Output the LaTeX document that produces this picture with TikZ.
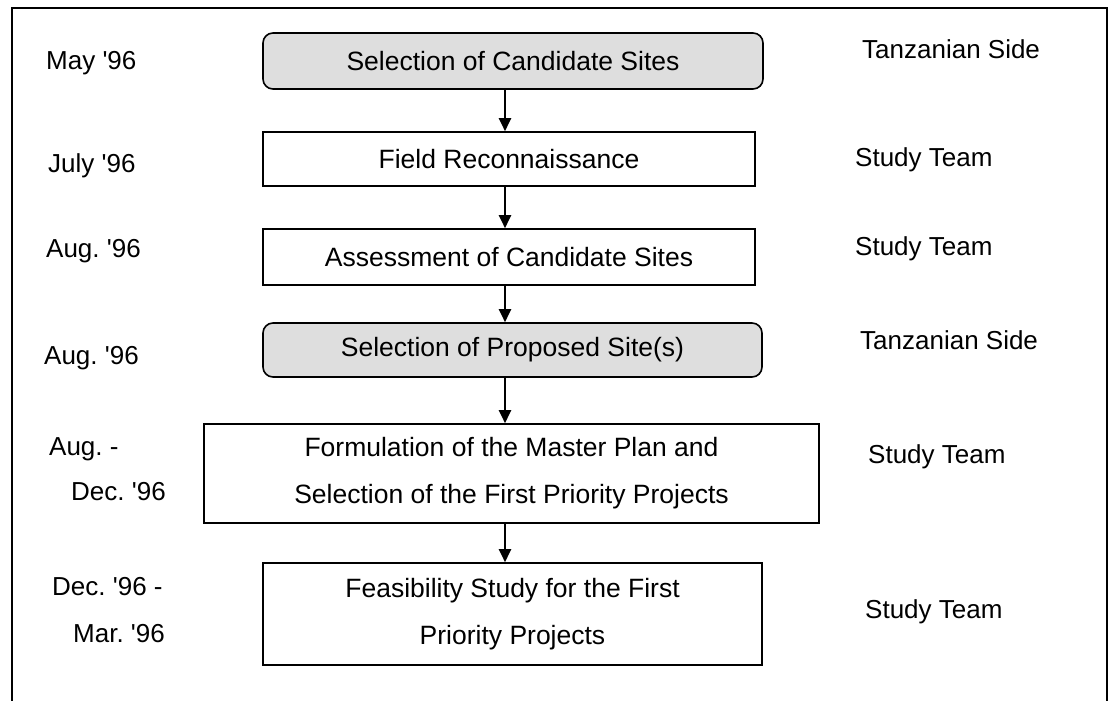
\documentclass[tikz,border=0pt]{standalone}
\usepackage{fontspec}
\setmainfont{Liberation Sans}
\usetikzlibrary{arrows.meta}
\newcommand{\qt}{\textquotesingle}

\begin{document}
\frenchspacing
\begin{tikzpicture}[x=1pt, y=-1pt,
    paso/.style={draw, line width=1.6pt, align=center, inner sep=4pt,
      font=\fontsize{26.5}{47}\selectfont},
    decision/.style={paso, rounded corners=10pt, fill=black!13},
    flecha/.style={line width=2.4pt, -{Triangle[length=13pt, width=12pt]}},
    etiqueta/.style={anchor=base west, inner sep=0pt, font=\fontsize{26}{30}\selectfont}]

  \useasboundingbox (0,0) rectangle (1112,701);

  % Marco
  \draw[line width=1.8pt] (12,701) -- (12,8) -- (1107,8) -- (1107,701);

  % Cajas del proceso
  \node[decision, minimum width=500pt, minimum height=56pt] (b1) at (513,61) {Selection of Candidate Sites};
  \node[paso, minimum width=492pt, minimum height=54pt] (b2) at (509,159) {Field Reconnaissance};
  \node[paso, minimum width=492pt, minimum height=56pt] (b3) at (509,257) {Assessment of Candidate Sites};
  \node[decision, minimum width=499pt, minimum height=54pt] (b4) at (512.5,350) {Selection of Proposed Site(s)};
  \node[paso, minimum width=615pt, minimum height=99pt] (b5) at (511.5,473.5)
    {Formulation of the Master Plan and\\Selection of the First Priority Projects};
  \node[paso, minimum width=499pt, minimum height=102pt] (b6) at (512.5,614)
    {Feasibility Study for the First\\Priority Projects};

  % Flechas
  \coordinate (col) at (505,0);
  \foreach \a/\b in {b1/b2, b2/b3, b3/b4, b4/b5, b5/b6} {
    \draw[flecha] (\a.south -| col) -- (\b.north -| col);
  }

  % Fechas
  \foreach \x/\y/\txt [count=\i] in {46/70/May \qt96, 48/172/July \qt96, 46/257/Aug. \qt96,
      44/364/Aug. \qt96, 49/455/Aug. -, 71/500/Dec. \qt96, 52/595/Dec. \qt96 -, 73/642/Mar. \qt96} {
    \node[etiqueta] (f\i) at (\x,\y) {\txt};
  }

  % Responsables
  \foreach \x/\y/\txt [count=\i] in {862/59/Tanzanian Side, 855/166/Study Team, 855/255/Study Team,
      860/349/Tanzanian Side, 868/463/Study Team, 865/618/Study Team} {
    \node[etiqueta] (r\i) at (\x,\y) {\txt};
  }
\end{tikzpicture}
\end{document}
